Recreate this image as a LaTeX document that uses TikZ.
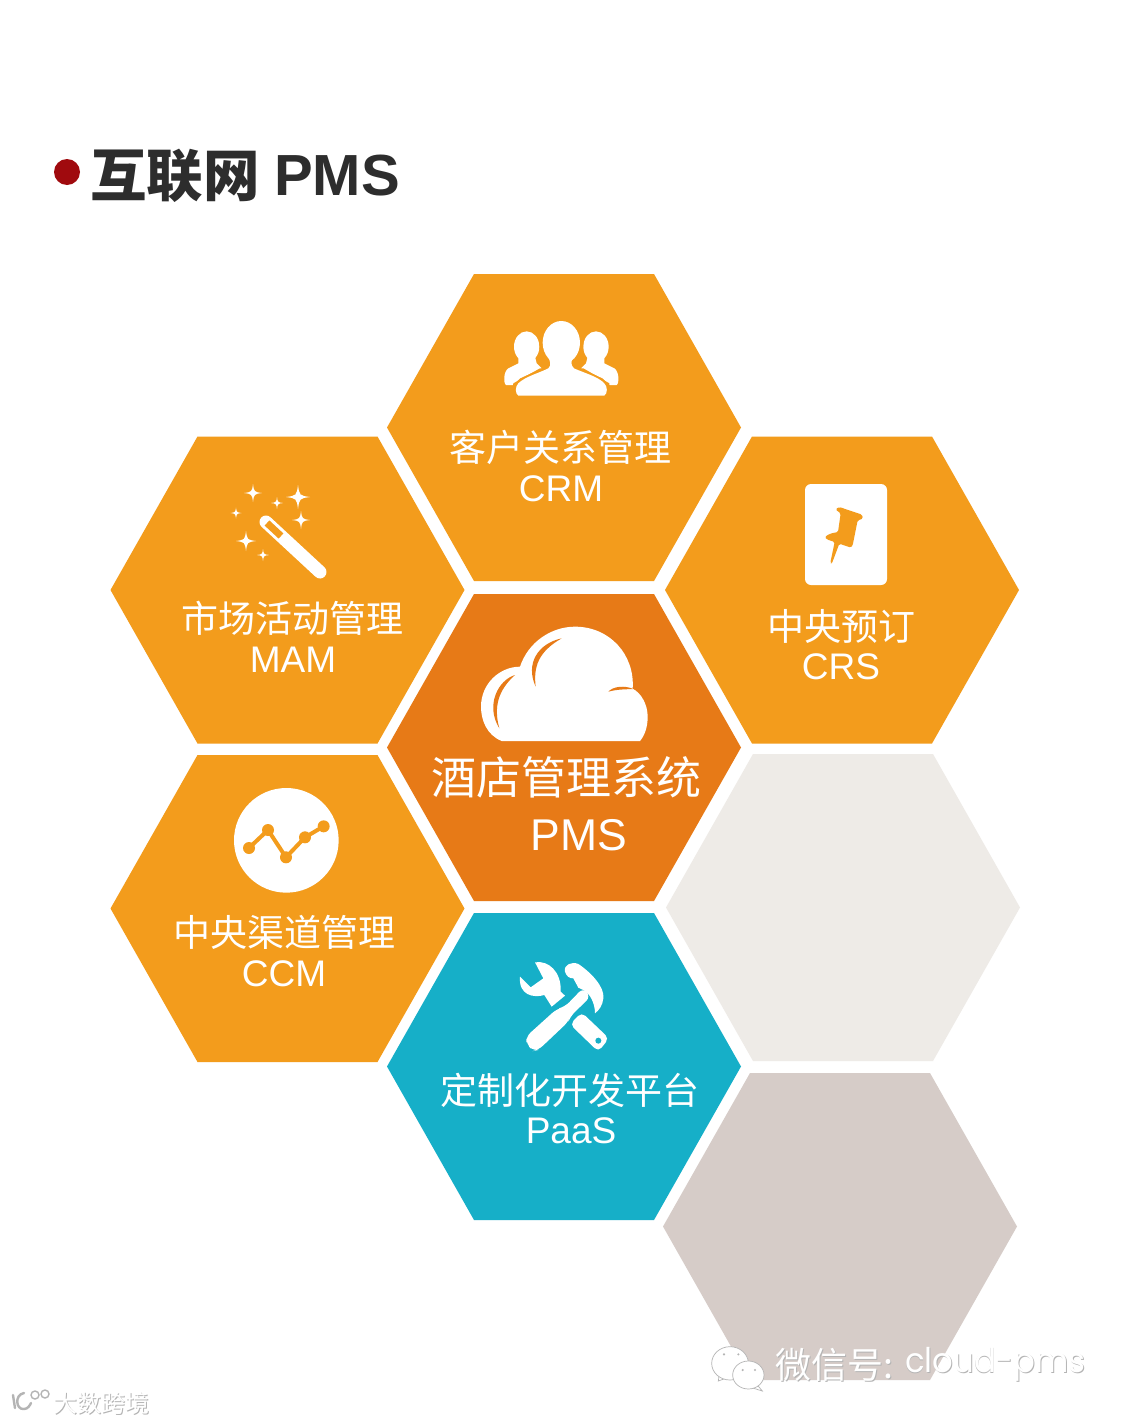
\documentclass[tikz,border=0pt]{standalone}
\usepackage{fontspec}
\setmainfont{Liberation Sans}
\newfontfamily\cjk{Noto Sans CJK SC}
\newfontfamily\wide{Poppins}
\definecolor{hexorange}{HTML}{F39C1C}
\definecolor{hexcore}{HTML}{E77A17}
\definecolor{hexteal}{HTML}{16AFC8}
\definecolor{hexpale}{HTML}{EEEBE7}
\definecolor{hextaupe}{HTML}{D6CCC8}
\definecolor{titleink}{HTML}{2D2D2D}
\definecolor{bulletred}{HTML}{A00A0E}
\definecolor{wmgray}{HTML}{B4B4B4}
\newcommand{\hexcell}[3]{\fill[#3] (#1-177,#2) -- (#1-90,#2-153.5) -- (#1+90,#2-153.5) -- (#1+177,#2) -- (#1+90,#2+153.5) -- (#1-90,#2+153.5) -- cycle;}
\newcommand{\spark}[3]{\fill[white] (#1,#2-#3) .. controls (#1+0.12*#3,#2-0.12*#3) .. (#1+#3,#2) .. controls (#1+0.12*#3,#2+0.12*#3) .. (#1,#2+#3) .. controls (#1-0.12*#3,#2+0.12*#3) .. (#1-#3,#2) .. controls (#1-0.12*#3,#2-0.12*#3) .. cycle;}
\newcommand{\emboss}[1]{\makebox[0pt][l]{\raisebox{-1pt}{\kern0.8pt\textcolor{wmgray}{#1}}}\textcolor{white}{#1}}
\tikzset{
  zh/.style={text=white,inner sep=0pt,font=\fontsize{37}{37}\selectfont\cjk},
  en/.style={text=white,inner sep=0pt,font=\fontsize{37}{37}\selectfont},
  zhbig/.style={text=white,inner sep=0pt,font=\fontsize{45}{45}\selectfont\cjk},
  enbig/.style={text=white,inner sep=0pt,font=\fontsize{44.5}{44.5}\selectfont},
  wmark/.style={anchor=west,inner sep=0pt},
  bubble/.style={fill=white,draw=wmgray,line width=0.7pt},
}
\begin{document}
\begin{tikzpicture}[x=1pt,y=-1pt]
\useasboundingbox[fill=white] (0,0) rectangle (1128,1424);
% hexagons
\hexcell{564}{427.5}{hexorange}
\hexcell{287.5}{590}{hexorange}
\hexcell{842}{590}{hexorange}
\hexcell{564}{747.5}{hexcore}
\hexcell{287.5}{908.5}{hexorange}
\hexcell{843}{907.5}{hexpale}
\hexcell{564}{1066.5}{hexteal}
\hexcell{840}{1226.5}{hextaupe}
% title
\node[circle,fill=bulletred,minimum size=26pt,inner sep=0pt] (bullet) at (67,172) {};
\node[anchor=west,inner sep=0pt,text=titleink,font=\fontsize{56.5}{56.5}\selectfont\bfseries\cjk] (titlezh) at (90,176) {互联网};
\node[anchor=west,inner sep=0pt,text=titleink,font=\fontsize{58}{58}\selectfont\bfseries] (titleen) at (274,176) {PMS};
% labels
\node[zh] (crmzh) at (560,447) {客户关系管理};
\node[en] (crmen) at (561,489) {CRM};
\node[zh] (mamzh) at (292,618) {市场活动管理};
\node[en] (mamen) at (293,660) {MAM};
\node[zh] (crszh) at (841,626) {中央预订};
\node[en] (crsen) at (841,667) {CRS};
\node[zh] (ccmzh) at (284,932) {中央渠道管理};
\node[en] (ccmen) at (284,974) {CCM};
\node[zhbig] (pmszh) at (566,777) {酒店管理系统};
\node[enbig] (pmsen) at (579,835) {PMS};
\node[zh] (paaszh) at (570,1090) {定制化开发平台};
\node[en] (paasen) at (571,1131) {PaaS};
% people icon
\begin{scope}[shift={(220,300)},scale=1/3]
 \fill[white] (920,140) ellipse (38 and 46);
 \fill[white] (1128,140) ellipse (38 and 46);
 \fill[white] (895,170) -- (945,170) -- (950,190) -- (965,205) -- (900,235) -- (880,255) -- (858,255) .. controls (850,250) and (850,215) .. (865,205) -- (895,190) -- cycle;
 \fill[white] (1153,170) -- (1103,170) -- (1098,190) -- (1083,205) -- (1148,235) -- (1168,255) -- (1190,255) .. controls (1198,250) and (1198,215) .. (1183,205) -- (1153,190) -- cycle;
 \fill[hexorange] (1024,130) ellipse (66 and 78);
 \fill[hexorange] (875,295) -- (880,250) -- (960,205) -- (1090,205) -- (1168,250) -- (1172,295) -- cycle;
 \fill[white] (1024,128) ellipse (56 and 65);
 \fill[white] (895,287) .. controls (885,280) and (885,260) .. (895,250) .. controls (915,230) and (960,218) .. (985,205) .. controls (995,195) and (990,185) .. (985,170) -- (1060,170) .. controls (1052,185) and (1052,195) .. (1062,205) .. controls (1090,218) and (1135,230) .. (1153,250) .. controls (1163,260) and (1163,280) .. (1153,287) -- cycle;
\end{scope}
% wand icon
\spark{253}{493}{9}
\spark{298}{497}{12}
\spark{277}{503}{6}
\spark{236}{513}{5.5}
\spark{301}{520}{9}
\spark{246}{541}{10}
\spark{263}{555}{6}
\coordinate (wanda) at (266,522);
\coordinate (wandb) at (320,572);
\coordinate (insa) at (267,523);
\coordinate (insb) at (281,536);
\draw[white,line width=13pt,line cap=round] (wanda) -- (wandb);
\draw[hexorange,line width=7pt] (insa) -- (insb);
% pin card
\fill[white,rounded corners=6pt] (805,484) rectangle (887,585);
\begin{scope}[shift={(780,470)},scale=1/3]
 \fill[hexorange,rounded corners=1.5pt] (166,118) -- (178,111) -- (246,134) -- (249,146) -- (233,151) -- (218,226) -- (213,233) -- (178,221) -- (155,282) -- (151,278) -- (164,216) -- (140,208) -- (134,201) -- (150,191) -- (174,186) -- (182,130) -- cycle;
\end{scope}
% cloud
\begin{scope}[shift={(470,610)},scale=1/3]
 \fill[white] (95,393) .. controls (50,375) and (33,330) .. (33,290) .. controls (33,220) and (90,170) .. (150,170) .. controls (175,95) and (245,50) .. (315,50) .. controls (420,50) and (495,135) .. (488,236) .. controls (515,250) and (533,285) .. (533,320) .. controls (533,350) and (525,375) .. (510,393) -- cycle;
 \fill[hexcore] (135,195) .. controls (85,210) and (45,285) .. (88,355) .. controls (70,290) and (85,240) .. (135,195) -- cycle;
 \fill[hexcore] (275,85) .. controls (205,100) and (165,160) .. (197,230) .. controls (190,170) and (205,125) .. (275,85) -- cycle;
 \fill[hexcore] (415,245) .. controls (430,228) and (465,226) .. (490,237) .. controls (465,238) and (440,238) .. (415,245) -- cycle;
\end{scope}
% chart icon
\begin{scope}[shift={(220,780)},scale=1/3]
 \fill[white] (199,181) circle (157);
 \draw[hexorange,line width=4pt] (87,204) -- (144,150) -- (198,232) -- (255,172) -- (311,139);
 \foreach \px/\py in {87/204,144/150,198/232,255/172,311/139} \fill[hexorange] (\px,\py) circle (18);
\end{scope}
% tools icon
\begin{scope}[shift={(510,955)},scale=1/3]
 % wrench
 \fill[white] (75,22) .. controls (115,15) and (155,50) .. (152,110) -- (165,122) -- (125,155) -- (103,120) .. controls (70,130) and (25,120) .. (30,65) -- (62,97) -- (100,70) -- cycle;
 \fill[white,rounded corners=5pt] (215,172) -- (297,250) -- (265,290) -- (180,208) -- cycle;
 \fill[hexteal] (265,257) circle (9);
 % hammer
 \fill[white,rounded corners=6pt] (48,245) -- (140,162) -- (165,155) -- (220,98) -- (242,125) -- (182,183) -- (175,200) -- (85,285) -- (70,288) -- (50,268) -- cycle;
 \fill[white] (165,50) .. controls (160,30) and (185,18) .. (205,27) .. controls (240,50) and (285,95) .. (280,130) .. controls (278,150) and (268,165) .. (255,175) .. controls (255,145) and (240,115) .. (220,105) -- (205,98) -- (190,70) .. controls (178,70) and (170,65) .. (165,50) -- cycle;
\end{scope}
% wechat bubbles
\begin{scope}[shift={(700,1335)},scale=1/3]
 \fill[bubble] (58,115) -- (55,138) -- (82,128) -- cycle;
 \fill[bubble] (90,85) ellipse (55 and 50);
 \fill[bubble] (172,150) -- (187,168) -- (155,158) -- cycle;
 \fill[bubble] (145,120) ellipse (47 and 42);
 \fill[wmgray] (72,58) circle (3.5) (115,58) circle (3.5) (128,105) circle (3.5) (165,105) circle (3.5);
\end{scope}
\node[wmark,font=\fontsize{36}{36}\selectfont\cjk] (wxlabel) at (775,1365) {\emboss{微信号:}};
\node[wmark,font=\fontsize{34}{34}\selectfont\wide] (wxid) at (905,1365) {\scalebox{0.95}[1]{\emboss{cloud-pms}}};
\node[wmark,font=\fontsize{24}{24}\selectfont\cjk] (dslabel) at (53,1404) {\emboss{大数跨境}};
% logo beside it
\draw[wmgray,line width=2.4pt,line cap=round] (13,1395) -- (15,1408);
\draw[wmgray,line width=2.4pt,line cap=round] (24,1393) .. controls (14,1395) and (16,1410) .. (24,1409) .. controls (28,1409) and (30,1405) .. (31,1403);
\draw[wmgray,line width=1.4pt] (35,1395) circle (4) (45,1394) circle (4);
\end{tikzpicture}
\end{document}
